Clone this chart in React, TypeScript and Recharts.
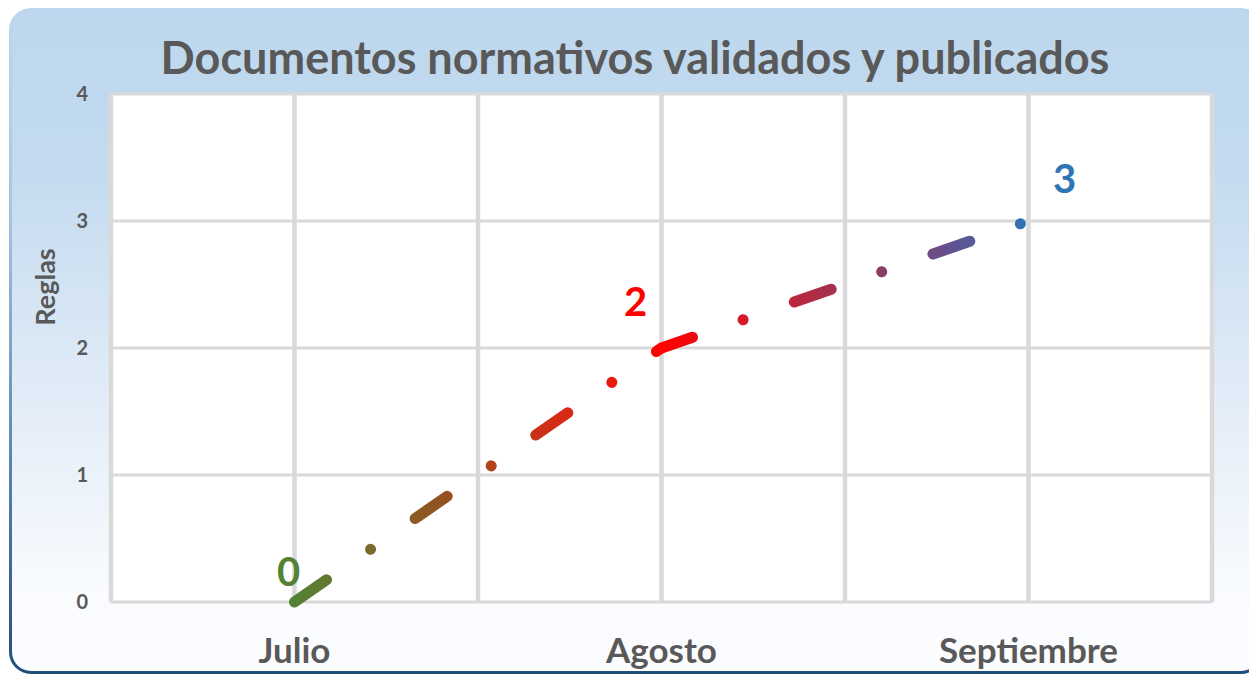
import React from 'react';
import { LineChart, Line, XAxis, YAxis, CartesianGrid, LabelList } from 'recharts';

const MONTHS = ['Julio', 'Agosto', 'Septiembre'];
const REGLAS = [0, 2, 3];
const Y_TICKS = [0, 1, 2, 3, 4];
const X_TICKS = [-0.5, 0, 0.5, 1, 1.5, 2, 2.5];
const LABEL_COLORS = ['#548235', '#ff0000', '#2e75b6'];
const LABEL_OFFSETS = [
    { dx: -6, dy: -31 },
    { dx: -26, dy: -47 },
    { dx: 36, dy: -43 },
];

const data = MONTHS.map((m, i) => ({ idx: i, month: m, reglas: REGLAS[i] }));

const FONT = "Lato, 'Open Sans', sans-serif";
const GREY = '#595959';

const renderLabel = (props: any) => {
    const { x, y, value, index } = props;
    const off = LABEL_OFFSETS[index] || { dx: 0, dy: -30 };
    return (
        <text
            x={x + off.dx}
            y={y + off.dy}
            fill={LABEL_COLORS[index]}
            textAnchor="middle"
            dominantBaseline="central"
            fontSize={40}
            fontWeight={700}
            fontFamily={FONT}
        >
            {value}
        </text>
    );
};

const App: React.FC = () => {
    return (
        <div style={{ position: 'relative', width: 1249, height: 667, overflow: 'hidden', fontFamily: FONT }}>
            <div
                style={{
                    position: 'absolute',
                    left: 1,
                    top: 0,
                    width: 1254,
                    height: 666,
                    borderRadius: 22,
                    padding: 3,
                    boxSizing: 'border-box',
                    background: 'linear-gradient(to bottom, #bdd7ee 0%, #a9c5e1 30%, #6f92b9 60%, #1f4e79 100%)',
                }}
            >
                <div
                    style={{
                        width: '100%',
                        height: '100%',
                        borderRadius: 19,
                        background: 'linear-gradient(to bottom, #bdd7ee 0%, #c4dbef 25%, #e3edf8 60%, #f9fbfe 88%, #fcfdff 100%)',
                    }}
                />
            </div>
            <div
                style={{
                    position: 'absolute',
                    left: 0,
                    top: 19,
                    width: 1254,
                    textAlign: 'center',
                    fontSize: 45,
                    fontWeight: 700,
                    color: GREY,
                    lineHeight: '60px',
                }}
            >
                Documentos normativos validados y publicados
            </div>
            <div
                style={{
                    position: 'absolute',
                    left: 36,
                    top: 279,
                    transform: 'translate(-50%, -50%) rotate(-90deg)',
                    fontSize: 27,
                    fontWeight: 700,
                    color: GREY,
                    whiteSpace: 'nowrap',
                }}
            >
                Reglas
            </div>
            <div style={{ position: 'absolute', left: 0, top: 0 }}>
                <LineChart width={1249} height={667} data={data} margin={{ top: 86, right: 45, bottom: 0, left: 43 }}>
                    <defs>
                        <linearGradient id="lineGrad" x1="0" y1="0" x2="1" y2="0">
                            <stop offset="0" stopColor="#548235" />
                            <stop offset="0.104" stopColor="#786a2c" />
                            <stop offset="0.186" stopColor="#8f5522" />
                            <stop offset="0.267" stopColor="#b0431e" />
                            <stop offset="0.35" stopColor="#d02e16" />
                            <stop offset="0.432" stopColor="#ea1a10" />
                            <stop offset="0.498" stopColor="#ff0000" />
                            <stop offset="0.611" stopColor="#d81828" />
                            <stop offset="0.705" stopColor="#b02c44" />
                            <stop offset="0.8" stopColor="#8a3e64" />
                            <stop offset="0.896" stopColor="#625290" />
                            <stop offset="1" stopColor="#2e75b6" />
                        </linearGradient>
                    </defs>
                    <CartesianGrid vertical={false} stroke="#d9d9d9" strokeWidth={3} fill="#ffffff" />
                    <CartesianGrid horizontal={false} stroke="#d9d9d9" strokeWidth={4.5} />
                    <XAxis
                        dataKey="idx"
                        type="number"
                        domain={[-0.5, 2.5]}
                        ticks={X_TICKS}
                        interval={0}
                        tickFormatter={(v: number) => (Number.isInteger(v) ? MONTHS[v] : '')}
                        tickLine={false}
                        axisLine={false}
                        height={73}
                        tickMargin={30}
                        tick={{ fill: GREY, fontSize: 35, fontWeight: 700, fontFamily: FONT }}
                    />
                    <YAxis
                        domain={[0, 4]}
                        ticks={Y_TICKS}
                        width={60}
                        tickLine={false}
                        axisLine={false}
                        tickMargin={17}
                        tick={{ fill: GREY, fontSize: 20, fontWeight: 700, fontFamily: FONT }}
                    />
                    <Line
                        type="linear"
                        dataKey="reglas"
                        stroke="url(#lineGrad)"
                        strokeWidth={11}
                        strokeLinecap="round"
                        strokeDasharray="39 53.5 0.01 54.2"
                        dot={false}
                        activeDot={false}
                        isAnimationActive={false}
                    >
                        <LabelList dataKey="reglas" content={renderLabel} />
                    </Line>
                </LineChart>
            </div>
        </div>
    );
};

export default App;
